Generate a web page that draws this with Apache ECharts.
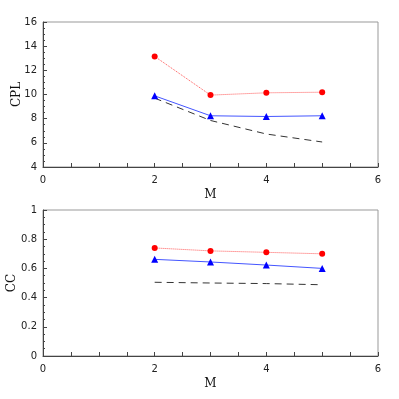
<!DOCTYPE html>
<html>
<head>
<meta charset="utf-8">
<script src="https://cdn.jsdelivr.net/npm/echarts@6/dist/echarts.min.js"></script>
<style>
  html, body { margin: 0; padding: 0; background: #fff; }
  #main { width: 399px; height: 399px; }
</style>
</head>
<body>
<div id="main"></div>
<script>
// data
var mValues = [2, 3, 4, 5];
var cplRed = [13.15, 9.95, 10.14, 10.19];
var cplBlue = [9.89, 8.24, 8.18, 8.24];
var cplDash = [9.7, 7.85, 6.73, 6.07];
var ccRed = [0.74, 0.72, 0.71, 0.70];
var ccBlue = [0.662, 0.644, 0.623, 0.60];
var ccDash = [0.505, 0.50, 0.496, 0.488];

function pairs(ys) {
  return mValues.map(function (m, i) { return [m, ys[i]]; });
}

var chart = echarts.init(document.getElementById('main'));

var tickFont = { fontFamily: 'DejaVu Sans', fontSize: 10, color: '#222' };
var titleFont = { fontFamily: 'DejaVu Serif', fontSize: 12, color: '#111' };

function xAxisFor(idx) {
  return {
    gridIndex: idx,
    type: 'value',
    min: 0, max: 6, interval: 0.5,
    name: 'M',
    nameLocation: 'middle',
    nameGap: 22,
    nameMoveOverlap: false,
    nameTextStyle: titleFont,
    axisLine: { lineStyle: { color: '#444', width: 1 } },
    axisTick: { inside: true, length: 4, lineStyle: { color: '#444' } },
    axisLabel: {
      fontFamily: tickFont.fontFamily, fontSize: tickFont.fontSize, color: tickFont.color,
      margin: 8,
      formatter: function (v) { return (v % 2 === 0) ? String(v) : ''; }
    },
    splitLine: { show: false }
  };
}

function yAxisFor(idx, name, gap, min, max, interval, fmt) {
  return {
    gridIndex: idx,
    type: 'value',
    min: min, max: max, interval: interval,
    name: name,
    nameLocation: 'middle',
    nameGap: gap,
    nameMoveOverlap: false,
    nameTextStyle: titleFont,
    axisLine: { lineStyle: { color: '#444', width: 1 } },
    axisTick: { inside: true, length: 4, lineStyle: { color: '#444' } },
    minorTick: { show: true, splitNumber: 4, length: 2, lineStyle: { color: '#444' } },
    axisLabel: {
      fontFamily: tickFont.fontFamily, fontSize: tickFont.fontSize, color: tickFont.color,
      margin: 6,
      formatter: fmt
    },
    splitLine: { show: false }
  };
}

function redSeries(xi, ys) {
  return {
    type: 'line', xAxisIndex: xi, yAxisIndex: xi,
    data: pairs(ys),
    symbol: 'circle', symbolSize: 6,
    itemStyle: { color: '#ff0000' },
    lineStyle: { color: '#ff5555', width: 1, type: 'dotted' }
  };
}
function blueSeries(xi, ys) {
  return {
    type: 'line', xAxisIndex: xi, yAxisIndex: xi,
    data: pairs(ys),
    symbol: 'triangle', symbolSize: 7,
    itemStyle: { color: '#0000ff' },
    lineStyle: { color: '#4455ff', width: 1, type: 'solid' }
  };
}
function dashSeries(xi, ys) {
  return {
    type: 'line', xAxisIndex: xi, yAxisIndex: xi,
    data: pairs(ys),
    symbol: 'none',
    lineStyle: { color: '#333', width: 1, type: [7, 5] }
  };
}

var option = {
  animation: false,
  grid: [
    { left: 43, top: 22, width: 335, height: 145, show: true, borderColor: '#999', borderWidth: 1, outerBoundsMode: 'none', containLabel: false },
    { left: 43, top: 210, width: 335, height: 146, show: true, borderColor: '#999', borderWidth: 1, outerBoundsMode: 'none', containLabel: false }
  ],
  xAxis: [xAxisFor(0), xAxisFor(1)],
  yAxis: [
    yAxisFor(0, 'CPL', 20, 4, 16, 2, function (v) { return String(v); }),
    yAxisFor(1, 'CC', 25, 0, 1, 0.2, function (v) { return String(Math.round(v * 10) / 10); })
  ],
  series: [
    redSeries(0, cplRed), blueSeries(0, cplBlue), dashSeries(0, cplDash),
    redSeries(1, ccRed), blueSeries(1, ccBlue), dashSeries(1, ccDash)
  ]
};

chart.setOption(option);
</script>
</body>
</html>
